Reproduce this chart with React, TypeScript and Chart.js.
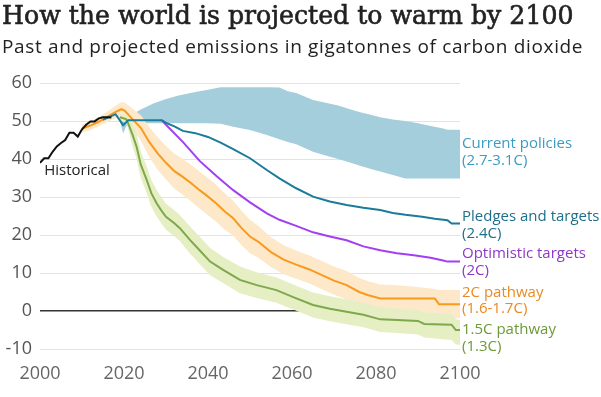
import React, { useEffect, useRef } from "react";
import { Chart, registerables } from "chart.js";

Chart.register(...registerables);

// ---------- data ----------
const historicalYears = [2000, 2001, 2002, 2003, 2004, 2005, 2006, 2007, 2008, 2009, 2010, 2011, 2012, 2013, 2014, 2015, 2016, 2017];
const historicalValues = [39.0, 40.2, 40.2, 41.9, 43.3, 44.2, 45.0, 46.9, 46.9, 45.9, 47.8, 49.0, 49.9, 49.9, 50.7, 51.0, 51.0, 50.9];

const currentYears = [2019, 2019.8, 2020.5, 2021.4, 2022, 2024, 2027, 2030, 2033, 2037, 2040, 2043, 2046, 2050, 2054, 2057, 2059, 2061, 2065, 2068, 2071, 2074, 2076, 2079, 2081, 2084, 2087, 2090, 2093, 2096, 2097, 2100];
const currentUpper = [50.8, 50.6, 51.0, 51.6, 51.8, 53.0, 54.6, 55.8, 56.7, 57.6, 58.2, 58.9, 58.9, 58.9, 58.9, 58.8, 57.8, 57.4, 55.5, 54.8, 54.1, 53.0, 52.4, 51.6, 51.0, 50.4, 50.0, 49.4, 48.7, 48.0, 47.7, 47.7];
const currentLower = [50.0, 46.8, 48.5, 50.0, 49.8, 49.4, 49.4, 49.4, 49.4, 49.4, 49.4, 49.3, 48.5, 47.6, 46.3, 45.2, 44.5, 43.9, 41.9, 40.9, 40.0, 39.0, 38.3, 37.3, 36.7, 35.8, 34.9, 34.9, 34.9, 34.9, 34.9, 34.9];

const pledgesYears = [2015, 2016, 2018, 2019.8, 2021, 2029, 2030, 2032, 2034, 2037, 2040, 2043, 2046, 2050, 2054, 2057, 2061, 2065, 2069, 2073, 2077, 2081, 2084, 2087, 2091, 2094, 2097, 2098, 2100];
const pledgesValues = [50.3, 50.8, 51.8, 48.9, 50.2, 50.2, 49.5, 48.6, 47.4, 46.8, 45.8, 44.3, 42.6, 40.2, 37.1, 34.9, 32.3, 30.1, 28.8, 27.9, 27.2, 26.6, 25.8, 25.3, 24.8, 24.3, 23.9, 23.0, 23.0];

const optimisticYears = [2029, 2030, 2034, 2038, 2042, 2046, 2050, 2054, 2057, 2061, 2065, 2069, 2073, 2077, 2081, 2085, 2089, 2093, 2096, 2097, 2100];
const optimisticValues = [50.2, 49.0, 44.5, 39.5, 35.5, 31.8, 28.6, 25.7, 24.0, 22.4, 20.7, 19.6, 18.6, 17.0, 16.0, 15.2, 14.7, 14.0, 13.3, 13.0, 13.0];

const twoCYears = [2010, 2012, 2014, 2016, 2018, 2019.4, 2020.2, 2022, 2024, 2026, 2028, 2030, 2032, 2034, 2036, 2038, 2040, 2042, 2044, 2046, 2048, 2050, 2052, 2055, 2058, 2061, 2064, 2067, 2070, 2073, 2076, 2078, 2081, 2085, 2090, 2094, 2095, 2100];
const twoCValues = [48.0, 48.8, 49.8, 51.1, 52.4, 53.1, 52.7, 50.5, 48.2, 44.5, 41.5, 39.0, 36.8, 35.3, 33.6, 31.8, 30.1, 28.3, 26.2, 24.4, 21.8, 19.6, 18.2, 15.5, 13.5, 12.2, 11.0, 9.5, 8.0, 6.8, 5.0, 4.2, 3.3, 3.3, 3.3, 3.3, 1.8, 1.8];
const twoCUpper = [49.0, 50.0, 51.0, 52.5, 54.0, 55.0, 54.8, 53.3, 51.5, 48.5, 45.8, 43.4, 41.4, 40.0, 38.4, 36.7, 35.0, 33.2, 31.0, 29.0, 26.3, 24.0, 22.4, 19.4, 17.3, 15.9, 14.7, 13.2, 11.7, 10.5, 8.7, 7.9, 7.0, 6.8, 6.3, 5.8, 5.5, 5.5];
const twoCLower = [47.0, 47.6, 48.6, 49.7, 50.8, 51.2, 50.6, 47.7, 44.9, 40.5, 37.2, 34.6, 32.2, 30.6, 28.8, 26.9, 25.2, 23.4, 21.4, 19.8, 17.3, 15.2, 14.0, 11.6, 9.7, 8.5, 7.3, 5.8, 4.3, 3.1, 1.3, 0.5, -0.4, -0.8, -1.2, -1.6, -1.9, -1.9];

const onePointFiveYears = [2019, 2020.5, 2021, 2022, 2023, 2024, 2025.4, 2026.5, 2027.8, 2029, 2030, 2032, 2033.3, 2035.7, 2038, 2040.5, 2043.6, 2047.6, 2051.6, 2056.3, 2060, 2065, 2069, 2073, 2077, 2081, 2085, 2090, 2091.5, 2098, 2099, 2100];
const onePointFiveValues = [51.0, 50.5, 49.4, 46.5, 43.2, 38.5, 34.5, 31.0, 28.3, 26.3, 24.8, 23.1, 21.8, 18.7, 16.0, 13.0, 10.8, 8.2, 6.8, 5.5, 3.8, 1.6, 0.6, -0.2, -1.0, -2.2, -2.4, -2.6, -3.4, -3.6, -5.0, -5.0];
const onePointFiveUpper = [51.8, 51.5, 51.0, 49.5, 46.5, 42.0, 38.0, 34.5, 31.8, 29.8, 28.2, 26.5, 25.2, 22.3, 19.6, 16.6, 14.2, 11.7, 10.2, 8.8, 7.1, 4.9, 3.9, 3.1, 2.2, 1.0, 0.6, 0.2, -0.4, -0.8, -2.2, -2.4];
const onePointFiveLower = [50.2, 49.5, 47.8, 43.5, 40.0, 35.0, 31.0, 27.5, 24.8, 22.8, 21.4, 19.7, 18.4, 15.1, 12.4, 9.4, 7.4, 4.7, 3.4, 2.2, 0.5, -1.7, -2.7, -3.5, -4.3, -5.5, -5.8, -6.2, -7.0, -7.6, -8.8, -8.9];

const yTicks = [-10, 0, 10, 20, 30, 40, 50, 60];
const xTicks = [2000, 2020, 2040, 2060, 2080, 2100];

// right-hand labels
const labelLines1 = ["Current policies", "Pledges and targets", "Optimistic targets", "2C pathway", "1.5C pathway"];
const labelLines2 = ["(2.7-3.1C)", "(2.4C)", "(2C)", "(1.6-1.7C)", "(1.3C)"];
const labelValues = [43.9, 24.8, 15.0, 4.9, -5.0];
const labelColors = ["#3b9bc3", "#1d6f8a", "#8f37c6", "#ea8a22", "#6c9a38"];
const historicalLabel = "Historical";
const historicalLabelPos = [2001, 36.8];

const toPoints = (xs: number[], ys: number[]) => xs.map((x, i) => ({ x, y: ys[i] }));

const labelsPlugin = {
  id: "sideLabels",
  afterDatasetsDraw(chart: any) {
    const { ctx, scales } = chart;
    const xs = scales.x;
    const ys = scales.y;
    ctx.save();
    ctx.font = "15px 'Open Sans'";
    ctx.textAlign = "left";
    ctx.textBaseline = "middle";
    const lx = xs.right + 2;
    labelLines1.forEach((t, i) => {
      const y = ys.getPixelForValue(labelValues[i]);
      ctx.fillStyle = labelColors[i];
      ctx.fillText(t, lx, y);
      ctx.fillText(labelLines2[i], lx, y + 16.5);
    });
    ctx.fillStyle = "#222";
    ctx.fillText(historicalLabel, xs.getPixelForValue(historicalLabelPos[0]), ys.getPixelForValue(historicalLabelPos[1]));
    ctx.restore();
  },
};

export default function App() {
  const ref = useRef<HTMLCanvasElement>(null);
  useEffect(() => {
    document.body.style.margin = "0";
    const line = (label: string, xs: number[], ys: number[], color: string, order: number, width = 2) => ({
      label,
      data: toPoints(xs, ys),
      borderColor: color,
      backgroundColor: color,
      borderWidth: width,
      pointRadius: 0,
      fill: false,
      tension: 0,
      order,
    });
    const band = (label: string, xs: number[], ys: number[], color: string, fill: any, order: number) => ({
      label,
      data: toPoints(xs, ys),
      borderColor: "rgba(0,0,0,0)",
      backgroundColor: color,
      borderWidth: 0,
      pointRadius: 0,
      fill,
      tension: 0,
      order,
    });
    const chart = new Chart(ref.current!, {
      type: "line",
      data: {
        datasets: [
          band("cpU", currentYears, currentUpper, "#a4cedc", "+1", 30),
          band("cpL", currentYears, currentLower, "#a4cedc", false, 31),
          band("tcU", twoCYears, twoCUpper, "#fde8c9", "+1", 28),
          band("tcL", twoCYears, twoCLower, "#fde8c9", false, 29),
          band("ofU", onePointFiveYears, onePointFiveUpper, "#e6eec4", "+1", 26),
          band("ofL", onePointFiveYears, onePointFiveLower, "#e6eec4", false, 27),
          line("1.5C", onePointFiveYears, onePointFiveValues, "#7ea84c", 6),
          line("2C", twoCYears, twoCValues, "#f99a1c", 5),
          line("Optimistic", optimisticYears, optimisticValues, "#a23ff0", 4),
          line("Pledges", pledgesYears, pledgesValues, "#1b7b99", 3),
          line("Historical", historicalYears, historicalValues, "#111111", 1),
        ],
      },
      options: {
        animation: false,
        responsive: false,
        maintainAspectRatio: false,
        events: [],
        layout: { padding: { top: 83, right: 141, left: 0, bottom: 0 } },
        plugins: { legend: { display: false }, tooltip: { enabled: false } },
        scales: {
          x: {
            type: "linear",
            min: 2000,
            max: 2100,
            afterFit: (s: any) => { s.height = 48; },
            afterBuildTicks: (s: any) => { s.ticks = xTicks.map((v) => ({ value: v })); },
            grid: { display: false, drawTicks: false },
            border: { display: false },
            ticks: {
              padding: 14,
              color: "#666",
              font: { family: "'Open Sans'", size: 18 },
              maxRotation: 0,
              callback: (v: any) => String(v),
            },
          },
          y: {
            min: -10,
            max: 60,
            afterFit: (s: any) => { s.width = 40; },
            afterBuildTicks: (s: any) => { s.ticks = yTicks.map((v) => ({ value: v })); },
            grid: {
              drawTicks: false,
              color: (c: any) => (c.tick && c.tick.value === 0 ? "#333" : "#e3e3e3"),
              lineWidth: (c: any) => (c.tick && c.tick.value === 0 ? 1.5 : 1),
            },
            border: { display: false },
            ticks: {
              padding: 8,
              color: "#555",
              font: { family: "'Open Sans'", size: 18 },
            },
          },
        },
      },
      plugins: [labelsPlugin],
    });
    return () => chart.destroy();
  }, []);

  return (
    <div style={{ position: "relative", width: 601, height: 397, background: "#fff", overflow: "hidden" }}>
      <canvas ref={ref} width={601} height={397} style={{ position: "absolute", left: 0, top: 0 }} />
      <div
        style={{
          position: "absolute",
          left: 2,
          top: 1,
          fontFamily: "'DejaVu Serif'",
          fontSize: 25.2,
          lineHeight: "30px",
          color: "#222",
          whiteSpace: "nowrap",
          WebkitTextStroke: "0.6px #222",
        }}
      >
        How the world is projected to warm by 2100
      </div>
      <div
        style={{
          position: "absolute",
          left: 2,
          top: 34,
          fontFamily: "'Open Sans'",
          fontSize: 19,
          letterSpacing: "0.65px",
          lineHeight: "24px",
          color: "#222",
          whiteSpace: "nowrap",
        }}
      >
        Past and projected emissions in gigatonnes of carbon dioxide
      </div>
    </div>
  );
}
